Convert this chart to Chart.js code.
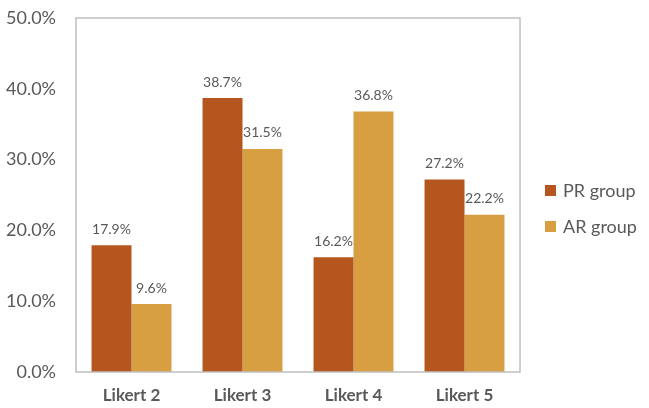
<!DOCTYPE html>
<html>
<head>
<meta charset="utf-8">
<script src="https://cdn.jsdelivr.net/npm/chart.js@4"></script>
<style>
  html, body { margin: 0; padding: 0; background: #fff; }
  #wrap { width: 649px; height: 408px; }
</style>
</head>
<body>
<div id="wrap"><canvas id="myChart" width="649" height="408"></canvas></div>
<script>
// data
var categories = ["Likert 2", "Likert 3", "Likert 4", "Likert 5"];
var prGroup = [17.9, 38.7, 16.2, 27.2];
var arGroup = [9.6, 31.5, 36.8, 22.2];
var seriesNames = ["PR group", "AR group"];
var yTicks = [0, 10, 20, 30, 40, 50];

var FONT = "Lato, 'Open Sans', sans-serif";
var GREY = "#595959";

// value labels above bars + plot frame + legend on the right
var decorPlugin = {
    id: "decor",
    afterDatasetsDraw: function (chart) {
        var c = chart.ctx;
        c.save();
        c.font = "14px " + FONT;
        c.fillStyle = GREY;
        c.textAlign = "center";
        c.textBaseline = "middle";
        chart.data.datasets.forEach(function (ds, i) {
            chart.getDatasetMeta(i).data.forEach(function (bar, j) {
                c.fillText(ds.data[j].toFixed(1) + "%", bar.x, bar.y - 16);
            });
        });
        c.restore();
    },
    afterDraw: function (chart) {
        var c = chart.ctx, a = chart.chartArea;
        c.save();
        c.strokeStyle = "#bfbfbf";
        c.lineWidth = 1.5;
        c.strokeRect(a.left, a.top, a.right - a.left, a.bottom - a.top);

        // legend
        c.font = "18px " + FONT;
        c.textBaseline = "middle";
        c.textAlign = "left";
        chart.data.datasets.forEach(function (ds, i) {
            var y = 190 + i * 36;
            c.fillStyle = ds.backgroundColor;
            c.fillRect(545, y - 5, 11, 11);
            c.fillStyle = GREY;
            c.fillText(ds.label, 563, y + 1);
        });
        c.restore();
    }
};

var ctx = document.getElementById("myChart");

var myChart = new Chart(ctx, {
    type: "bar",
    data: {
        labels: categories,
        datasets: [
            {
                label: seriesNames[0],
                data: prGroup,
                backgroundColor: "#b5561e"
            },
            {
                label: seriesNames[1],
                data: arGroup,
                backgroundColor: "#d89e42"
            }
        ]
    },
    options: {
        responsive: false,
        animation: false,
        layout: {
            padding: { top: 18, right: 129, left: 0, bottom: 0 }
        },
        datasets: {
            bar: { categoryPercentage: 0.72, barPercentage: 1.0 }
        },
        plugins: {
            legend: { display: false },
            tooltip: { enabled: false }
        },
        scales: {
            x: {
                grid: { display: false },
                border: { display: false },
                ticks: {
                    color: GREY,
                    font: { family: FONT, size: 17, weight: "bold" },
                    padding: 5
                },
                afterFit: function (s) { s.height = 36; }
            },
            y: {
                min: 0,
                max: 50,
                afterBuildTicks: function (s) {
                    s.ticks = yTicks.map(function (v) { return { value: v }; });
                },
                grid: { display: false },
                border: { display: false },
                ticks: {
                    color: GREY,
                    font: { family: FONT, size: 18 },
                    padding: 12,
                    callback: function (v) { return v.toFixed(1) + "%"; }
                },
                afterFit: function (s) {
                    s.width = 76;
                    s.paddingTop = 0;
                    s.paddingBottom = 0;
                }
            }
        }
    },
    plugins: [decorPlugin]
});
</script>
</body>
</html>
